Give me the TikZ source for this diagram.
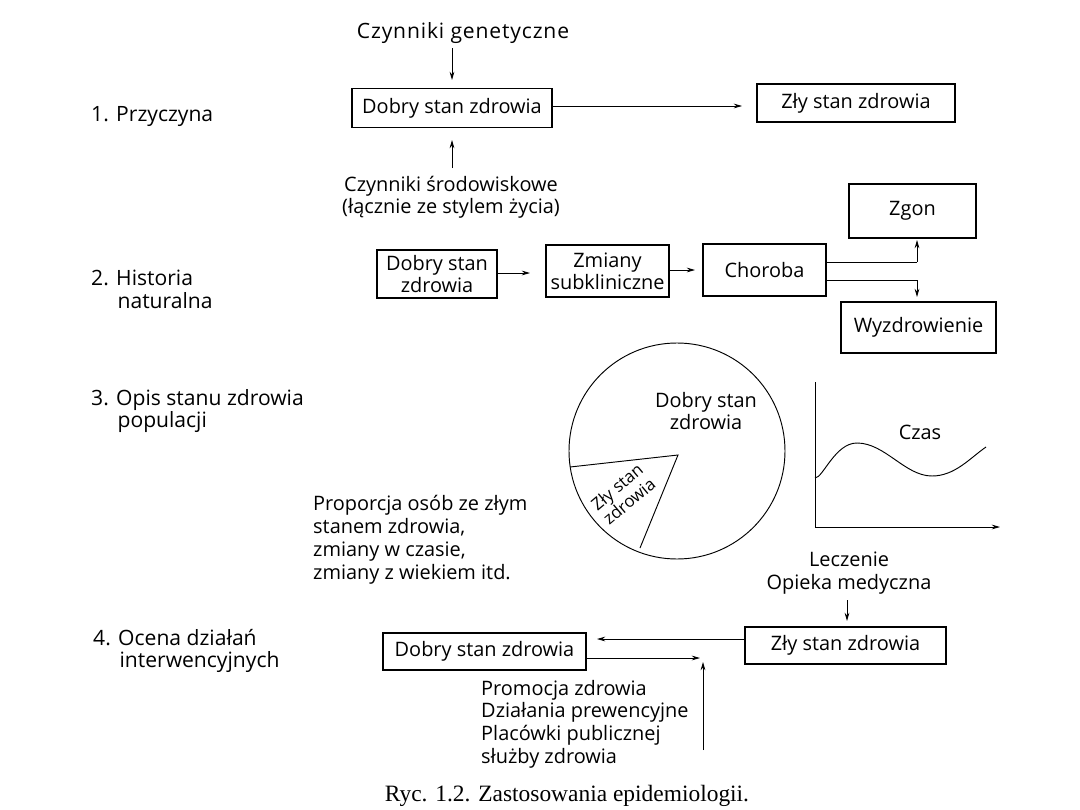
\documentclass[tikz,border=0pt]{standalone}
\usepackage{fontspec}
\setmainfont{Open Sans}
\newfontfamily\capfont{Liberation Serif}
\newfontfamily\widefont[LetterSpace=4]{Open Sans}
\usetikzlibrary{arrows.meta}
\begin{document}
\begin{tikzpicture}[x=0.03cm,y=-0.03cm,
  every node/.style={font=\fontsize{17}{19.5}\selectfont, inner sep=0pt},
  box/.style={draw, line width=0.9pt, align=center},
  lbl/.style={align=left, anchor=west, font=\fontsize{18}{19.5}\selectfont},
  arr/.style={-{Stealth[length=7pt,width=4pt]}, line width=0.7pt},
  ln/.style={line width=0.7pt}]
\useasboundingbox (0,0) rectangle (1080,810);
% section labels
\node[lbl] (s1) at (91,117) {1. Przyczyna};
\node[lbl] (s2) at (91,289) {2. Historia\\\hspace*{1.25em}naturalna};
\node[lbl] (s3) at (91,411) {3. Opis stanu zdrowia\\\hspace*{1.25em}populacji};
\node[lbl] (s4) at (93,651) {4. Ocena działań\\\hspace*{1.25em}interwencyjnych};
% section 1
\node[font=\widefont\fontsize{18}{19.5}\selectfont] (gen) at (463,33) {Czynniki genetyczne};
\node[box, minimum width=6cm, minimum height=1.17cm] (d1) at (452,108) {Dobry stan zdrowia};
\node[box, minimum width=5.94cm, minimum height=1.14cm] (z1) at (856,103) {Zły stan zdrowia};
\node[align=center, font=\fontsize{17}{19}\selectfont] (env) at (451,197) {Czynniki środowiskowe\\(łącznie ze stylem życia)};
\coordinate (genA) at (452,48);
\coordinate (genB) at (452,80);
\coordinate (envA) at (452,168);
\coordinate (envB) at (452,140);
\coordinate (d1r) at (552,106);
\coordinate (z1l) at (742,106);
\draw[arr] (genA) -- (genB);
\draw[arr] (envA) -- (envB);
\draw[arr] (d1r) -- (z1l);
% section 2
\node[box, minimum width=3.6cm, minimum height=1.44cm, font=\fontsize{17}{19}\selectfont] (d2) at (437,274) {Dobry stan\\zdrowia};
\node[box, minimum width=3.69cm, minimum height=1.56cm, font=\fontsize{17}{19}\selectfont] (sub) at (607.5,271) {Zmiany\\subkliniczne};
\node[box, minimum width=3.69cm, minimum height=1.56cm] (cho) at (764.5,270) {Choroba};
\node[box, minimum width=3.81cm, minimum height=1.62cm] (zg) at (912.5,211) {Zgon};
\node[box, minimum width=4.65cm, minimum height=1.53cm] (wy) at (918.5,327.5) {Wyzdrowienie};
\coordinate (a1) at (530,273);
\coordinate (a2) at (695,270);
\draw[arr] (d2.east |- 0,273) -- (a1);
\draw[arr] (sub.east |- 0,270) -- (a2);
\coordinate (c1) at (826,262);
\coordinate (c2) at (826,280);
\coordinate (k1) at (917,262);
\coordinate (k2) at (917,280);
\coordinate (t1) at (917,240);
\coordinate (t2) at (917,297);
\draw[ln] (c1) -- (k1);
\draw[arr] (k1) -- (t1);
\draw[ln] (c2) -- (k2);
\draw[arr] (k2) -- (t2);
% section 3 pie
\coordinate (pc) at (677,451);
\coordinate (ap) at (678,455);
\coordinate (pl) at (570,467);
\coordinate (pb) at (640,548);
\draw[line width=0.8pt] (pc) circle (108*0.03cm);
\draw[line width=0.8pt] (pl) -- (ap) -- (pb);
\node[align=center, font=\fontsize{17}{19}\selectfont] (good) at (706,411) {Dobry stan\\zdrowia};
\node[align=center, rotate=40, font=\fontsize{14.5}{16}\selectfont] (bad) at (623,494) {Zły stan\\zdrowia};
% graph
\coordinate (ax0) at (815,527);
\coordinate (axy) at (815,382);
\coordinate (axx) at (1000,527);
\draw[ln] (axy) -- (ax0);
\draw[arr] (ax0) -- (axx);
\draw[line width=0.8pt] (815,478) .. controls (823,478) and (835,443) .. (857,443)
  .. controls (885,443) and (905,476) .. (932,476)
  .. controls (955,476) and (970,458) .. (986,447);
\node (czas) at (920,432) {Czas};
\node[lbl, font=\fontsize{17}{19.5}\selectfont] (prop) at (313,540) {Proporcja osób ze złym\\stanem zdrowia,\\zmiany w czasie,\\zmiany z wiekiem itd.};
% section 4
\node[align=center] (lecz) at (849,573) {Leczenie\\Opieka medyczna};
\node[box, minimum width=6.09cm, minimum height=1.11cm] (d4) at (484.5,651.5) {Dobry stan zdrowia};
\node[box, minimum width=6.03cm, minimum height=1.11cm] (z4) at (845.5,645.5) {Zły stan zdrowia};
\coordinate (o1) at (847,600);
\coordinate (o2) at (847,621);
\draw[arr] (o1) -- (o2);
\coordinate (r1) at (597,639);
\draw[arr] (z4.west |- 0,639) -- (r1);
\coordinate (r2) at (700,658);
\draw[arr] (d4.east |- 0,658) -- (r2);
\coordinate (v1) at (703,750);
\coordinate (v2) at (703,662);
\draw[arr] (v1) -- (v2);
\node[lbl, font=\fontsize{17}{19.3}\selectfont] (prom) at (481,724) {Promocja zdrowia\\Działania prewencyjne\\Placówki publicznej\\służby zdrowia};
\node[font=\capfont\fontsize{20}{22}\selectfont] (cap) at (567,796) {Ryc. 1.2. Zastosowania epidemiologii.};
\end{tikzpicture}
\end{document}
